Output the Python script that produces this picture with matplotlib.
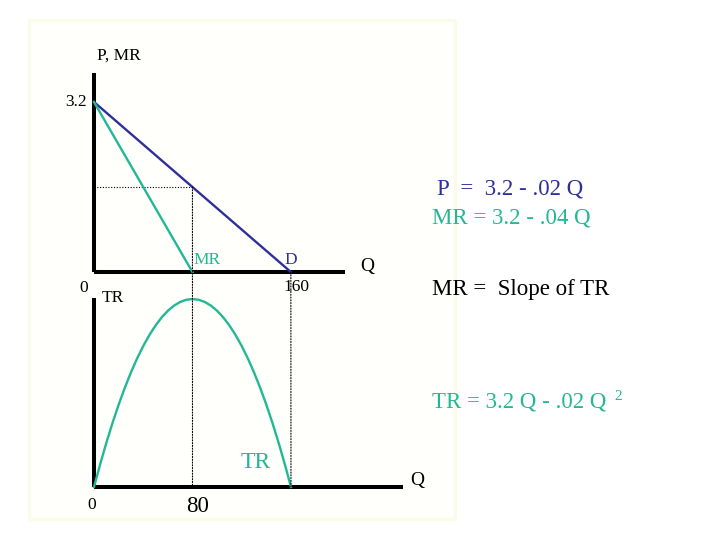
import matplotlib.pyplot as plt
from matplotlib.patches import Rectangle, ConnectionPatch

# データ
q_demand = [0, 160]
p_demand = [3.2, 0]
q_mr = [0, 80]
mr_values = [3.2, 0]
q_tr = [0, 5, 10, 15, 20, 25, 30, 35, 40, 45, 50, 55, 60, 65, 70, 75, 80,
        85, 90, 95, 100, 105, 110, 115, 120, 125, 130, 135, 140, 145, 150, 155, 160]
tr_values = [0, 15.5, 30, 43.5, 56, 67.5, 78, 87.5, 96, 103.5, 110, 115.5, 120, 123.5, 126, 127.5, 128,
             127.5, 126, 123.5, 120, 115.5, 110, 103.5, 96, 87.5, 78, 67.5, 56, 43.5, 30, 15.5, 0]
q_mid = 80
p_mid = 1.6

navy = '#2e2e9c'
teal = '#22b894'
plt.rcParams['font.family'] = ['Liberation Serif', 'DejaVu Serif']

W, H = 720, 540


def px(x, y):
    return x / W, 1 - y / H


fig = plt.figure(figsize=(7.2, 5.4), dpi=100)
fig.patches.append(Rectangle(px(29, 519), 426 / W, 499 / H, transform=fig.transFigure,
                             facecolor='#fffffb', edgecolor='#fbfbea', linewidth=2.5, zorder=-5))

# 上のグラフ (P, MR)
ax1 = fig.add_axes([94 / W, 1 - 272 / H, 251 / W, 199 / H])
ax1.set_xlim(0, 204)
ax1.set_ylim(0, 3.746)
ax1.plot(q_demand, p_demand, color=navy, lw=1.7, clip_on=False, zorder=3)
ax1.plot(q_mr, mr_values, color=teal, lw=1.7, clip_on=False, zorder=3)
ax1.plot([0, q_mid], [p_mid, p_mid], color='black', lw=0.8, ls=(0, (1, 1.5)))

# 下のグラフ (TR)
ax2 = fig.add_axes([94 / W, 1 - 487 / H, 309 / W, 189 / H])
ax2.set_xlim(0, 251)
ax2.set_ylim(0, 128.7)
ax2.plot(q_tr, tr_values, color=teal, lw=1.7, clip_on=False, zorder=3)

for ax in (ax1, ax2):
    ax.patch.set_alpha(0)
    for s in ('top', 'right'):
        ax.spines[s].set_visible(False)
    for s in ('left', 'bottom'):
        ax.spines[s].set_linewidth(2.9)
        ax.spines[s].set_capstyle('butt')
    ax.set_xticks([])
    ax.set_yticks([])

# 点線 (上下をつなぐ)
for q, top in ((q_mid, p_mid), (q_demand[1], 0)):
    con = ConnectionPatch(xyA=(q, top), coordsA=ax1.transData, xyB=(q, 0), coordsB=ax2.transData,
                          color='black', lw=0.8, ls=(0, (1, 1.5)), zorder=1)
    fig.add_artist(con)

# 軸のラベル
fig.text(*px(97, 56), 'P, MR', fontsize=12.5, va='center', ha='left')
ax1.annotate('3.2', (0, 3.2), xytext=(-5, 0), textcoords='offset points', fontsize=12.5,
             ha='right', va='center')
fig.text(*px(84, 288), '0', fontsize=12.5, ha='center', va='center')
ax1.annotate('MR', (q_mid, 0), xytext=(1, 3), textcoords='offset points', fontsize=12.5,
             color=teal, ha='left', va='bottom')
ax1.annotate('D', (q_demand[1], 0), xytext=(0, 3), textcoords='offset points', fontsize=12.5,
             color=navy, ha='center', va='bottom')
fig.text(*px(367, 266), 'Q', fontsize=14, ha='center', va='center')
ax1.annotate('160', (q_demand[1], 0), xytext=(4, -11), textcoords='offset points', fontsize=12.5,
             ha='center', va='center')

fig.text(*px(102, 298), 'TR', fontsize=12.5, ha='left', va='center')
fig.text(*px(256, 463), 'TR', fontsize=17, color=teal, ha='center', va='center')
fig.text(*px(417, 481), 'Q', fontsize=14, ha='center', va='center')
fig.text(*px(92, 505), '0', fontsize=12.5, ha='center', va='center')
fig.text(*px(198, 506), '80', fontsize=16.5, ha='center', va='center')

# 式
fig.text(*px(437, 189), 'P  =  3.2 - .02 Q', fontsize=16.5, color=navy, ha='left', va='center')
fig.text(*px(432, 218), 'MR = 3.2 - .04 Q', fontsize=16.5, color=teal, ha='left', va='center')
fig.text(*px(432, 290), 'MR =  Slope of TR', fontsize=16.5, color='black', ha='left', va='center')
fig.text(*px(432, 402), 'TR = 3.2 Q - .02 Q', fontsize=16.5, color=teal, ha='left', va='center')
fig.text(*px(614, 397), '2', fontsize=11, color=teal, ha='left', va='center')

fig.savefig('out.png', dpi=100)
